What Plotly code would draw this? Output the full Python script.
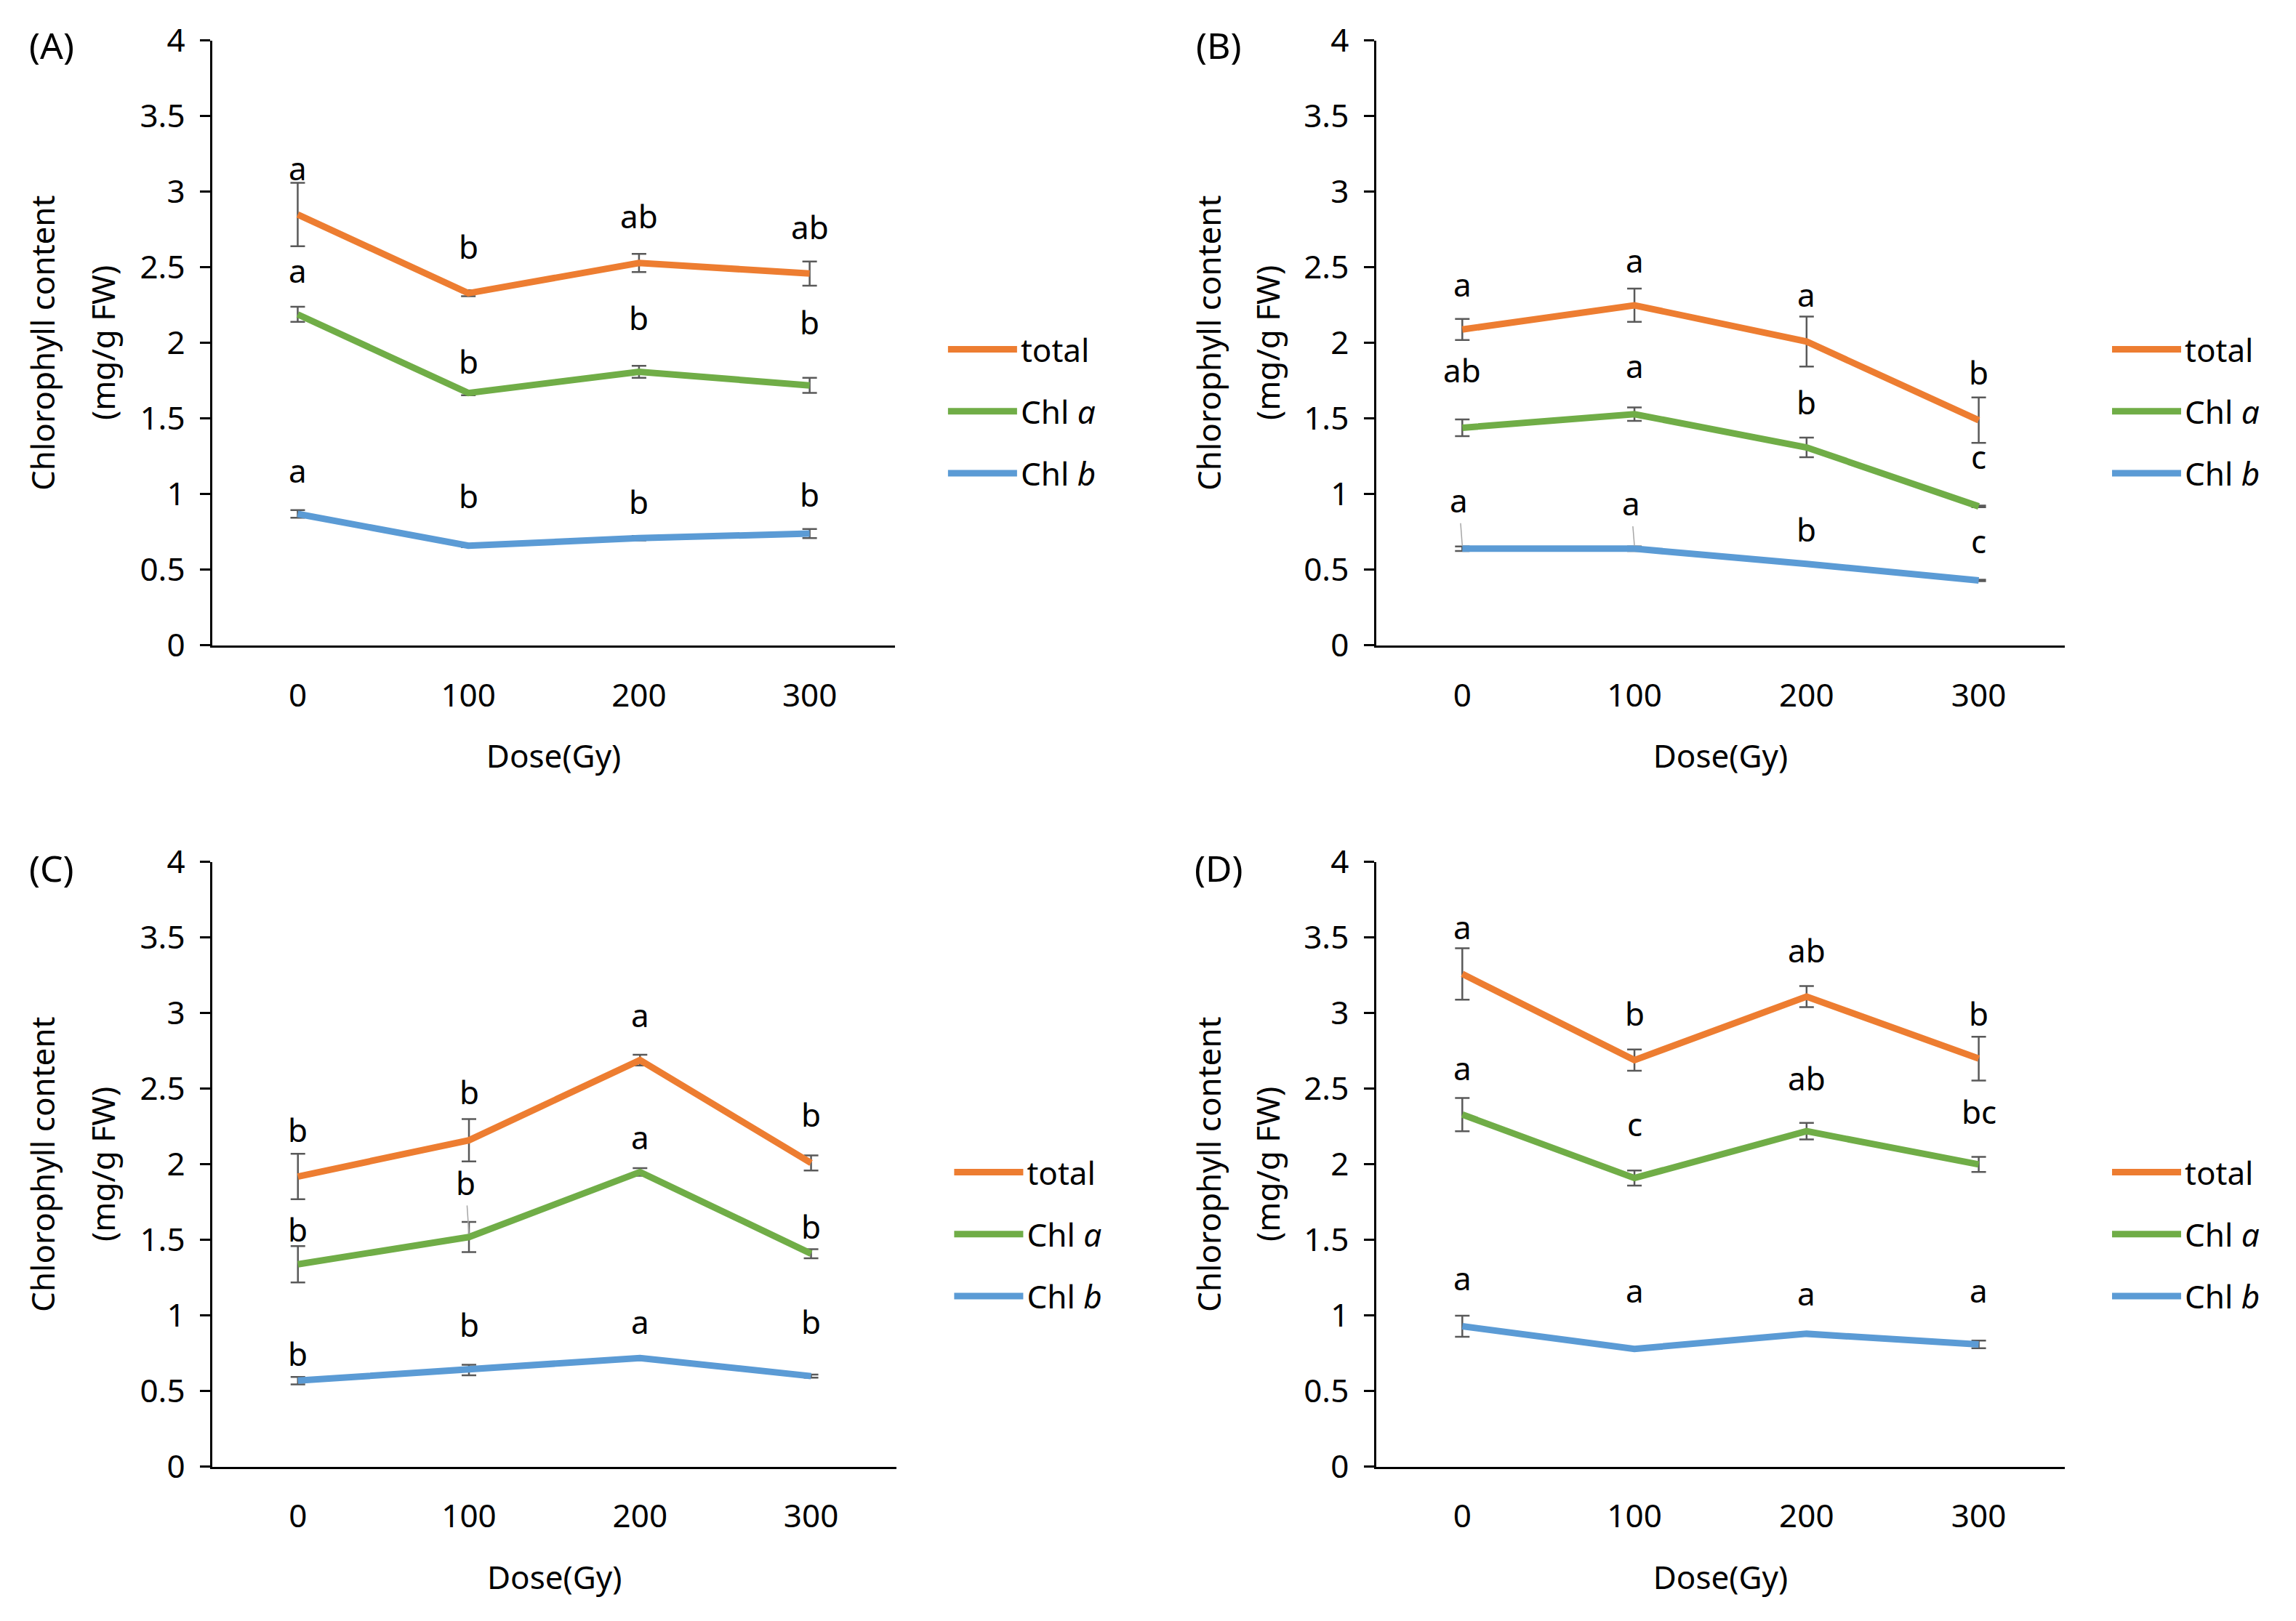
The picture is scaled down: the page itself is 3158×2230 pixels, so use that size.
import plotly.graph_objects as go

FONT = "Noto Sans"
FS = 44

doses = ["0", "100", "200", "300"]
series_names = ["total", "Chl <i>a</i>", "Chl <i>b</i>"]
series_colors = ["#ED7D31", "#70AD47", "#5B9BD5"]
panel_tags = ["(A)", "(B)", "(C)", "(D)"]

# ---- Panel A ----
A_total = [2.85, 2.33, 2.53, 2.46]
A_total_err = [0.21, 0.02, 0.06, 0.08]
A_chla = [2.19, 1.67, 1.81, 1.72]
A_chla_err = [0.05, 0.015, 0.04, 0.05]
A_chlb = [0.87, 0.66, 0.71, 0.74]
A_chlb_err = [0.025, 0.01, 0.015, 0.03]
A_total_letters = ["a", "b", "ab", "ab"]
A_chla_letters = ["a", "b", "b", "b"]
A_chlb_letters = ["a", "b", "b", "b"]
A_total_label_y = [3.16, 2.64, 2.84, 2.77]
A_chla_label_y = [2.48, 1.88, 2.17, 2.14]
A_chlb_label_y = [1.16, 0.99, 0.95, 1.0]

# ---- Panel B ----
B_total = [2.09, 2.25, 2.01, 1.49]
B_total_err = [0.07, 0.11, 0.165, 0.15]
B_chla = [1.44, 1.53, 1.31, 0.92]
B_chla_err = [0.055, 0.045, 0.065, 0.005]
B_chlb = [0.64, 0.64, 0.54, 0.43]
B_chlb_err = [0.015, 0.015, 0.003, 0.005]
B_total_letters = ["a", "a", "a", "b"]
B_chla_letters = ["ab", "a", "b", "c"]
B_chlb_letters = ["a", "a", "b", "c"]
B_total_label_y = [2.39, 2.55, 2.32, 1.81]
B_chla_label_y = [1.82, 1.85, 1.61, 1.25]
B_chlb_label_y = [0.96, 0.94, 0.77, 0.69]

# ---- Panel C ----
C_total = [1.92, 2.16, 2.69, 2.01]
C_total_err = [0.15, 0.14, 0.035, 0.05]
C_chla = [1.34, 1.52, 1.95, 1.41]
C_chla_err = [0.12, 0.10, 0.025, 0.03]
C_chlb = [0.57, 0.64, 0.72, 0.6]
C_chlb_err = [0.025, 0.035, 0.005, 0.01]
C_total_letters = ["b", "b", "a", "b"]
C_chla_letters = ["b", "b", "a", "b"]
C_chlb_letters = ["b", "b", "a", "b"]
C_total_label_y = [2.23, 2.48, 2.99, 2.33]
C_chla_label_y = [1.57, 1.88, 2.18, 1.59]
C_chlb_label_y = [0.75, 0.94, 0.96, 0.96]

# ---- Panel D ----
D_total = [3.26, 2.69, 3.11, 2.70]
D_total_err = [0.17, 0.07, 0.07, 0.145]
D_chla = [2.33, 1.91, 2.22, 2.0]
D_chla_err = [0.11, 0.05, 0.055, 0.05]
D_chlb = [0.93, 0.78, 0.88, 0.81]
D_chlb_err = [0.07, 0.005, 0.01, 0.025]
D_total_letters = ["a", "b", "ab", "b"]
D_chla_letters = ["a", "c", "ab", "bc"]
D_chlb_letters = ["a", "a", "a", "a"]
D_total_label_y = [3.57, 3.0, 3.42, 3.0]
D_chla_label_y = [2.64, 2.27, 2.57, 2.35]
D_chlb_label_y = [1.25, 1.17, 1.15, 1.17]

panels = [
    dict(vals=[A_total, A_chla, A_chlb], errs=[A_total_err, A_chla_err, A_chlb_err],
         letters=[A_total_letters, A_chla_letters, A_chlb_letters],
         label_y=[A_total_label_y, A_chla_label_y, A_chlb_label_y], leaders=[]),
    dict(vals=[B_total, B_chla, B_chlb], errs=[B_total_err, B_chla_err, B_chlb_err],
         letters=[B_total_letters, B_chla_letters, B_chlb_letters],
         label_y=[B_total_label_y, B_chla_label_y, B_chlb_label_y], leaders=[(2, 0), (2, 1)]),
    dict(vals=[C_total, C_chla, C_chlb], errs=[C_total_err, C_chla_err, C_chlb_err],
         letters=[C_total_letters, C_chla_letters, C_chlb_letters],
         label_y=[C_total_label_y, C_chla_label_y, C_chlb_label_y], leaders=[(1, 1)]),
    dict(vals=[D_total, D_chla, D_chlb], errs=[D_total_err, D_chla_err, D_chlb_err],
         letters=[D_total_letters, D_chla_letters, D_chlb_letters],
         label_y=[D_total_label_y, D_chla_label_y, D_chlb_label_y], leaders=[]),
]

W, H = 3158, 2230
x_domains = [[0.0925, 0.3898], [0.5994, 0.8993], [0.0925, 0.3905], [0.5994, 0.8993]]
y_domains = [[0.6018, 0.9749], [0.6018, 0.9749], [0.0951, 0.4682], [0.0951, 0.4682]]
legend_pos = [(0.4113, 0.7462), (0.9183, 0.7462), (0.4140, 0.2386), (0.9183, 0.2386)]
tag_pos = [(71, 62), (1676, 62), (71, 1194), (1676, 1194)]
ytitle_x = [(58, 141), (1662, 1743), (58, 141), (1662, 1743)]

fig = go.Figure()
annotations = []
layout = dict(width=W, height=H, margin=dict(l=0, r=0, t=0, b=0, autoexpand=False),
              paper_bgcolor="white", plot_bgcolor="white",
              font=dict(family=FONT, size=FS, color="black"), showlegend=True)

for p, pan in enumerate(panels):
    sfx = "" if p == 0 else str(p + 1)
    xa, ya = "x" + sfx, "y" + sfx
    leg = "legend" + sfx
    for s in range(3):
        fig.add_trace(go.Scatter(
            x=list(range(len(doses))), y=pan["vals"][s], mode="lines",
            name=series_names[s], legend=leg, legendgroup=f"p{p}s{s}",
            line=dict(color=series_colors[s], width=9),
            error_y=dict(type="data", array=pan["errs"][s], visible=True,
                         color="#595959", thickness=2.5, width=10),
            xaxis=xa, yaxis=ya))
        for i in range(len(doses)):
            a = dict(x=i, y=pan["label_y"][s][i], xref=xa, yref=ya,
                     text=pan["letters"][s][i], showarrow=False,
                     xanchor="center", yanchor="middle",
                     font=dict(family=FONT, size=FS, color="black"))
            if (s, i) in pan["leaders"]:
                a.update(showarrow=True, arrowhead=0, arrowwidth=1.5,
                         arrowcolor="#A6A6A6", ax=i - 0.02, ay=pan["label_y"][s][i],
                         axref=xa, ayref=ya, x=i, y=pan["vals"][s][i] + 0.02,
                         standoff=0, startstandoff=0)
            annotations.append(a)
    layout["xaxis" + sfx] = dict(
        domain=x_domains[p], anchor=ya, range=[-0.5, 3.5], automargin=False,
        tickvals=list(range(len(doses))), ticktext=doses, ticks="",
        showline=True, linecolor="black", linewidth=2.5, showgrid=False,
        zeroline=False, ticklabelstandoff=28,
        title=dict(text="Dose(Gy)", standoff=42, font=dict(size=FS)),
        tickfont=dict(size=FS))
    layout["yaxis" + sfx] = dict(
        domain=y_domains[p], anchor=xa, range=[0, 4], automargin=False,
        tickvals=[0, 0.5, 1, 1.5, 2, 2.5, 3, 3.5, 4],
        ticktext=["0", "0.5", "1", "1.5", "2", "2.5", "3", "3.5", "4"],
        ticks="outside", ticklen=14, tickwidth=2.5, tickcolor="black",
        showline=True, linecolor="black", linewidth=2.5, showgrid=False,
        zeroline=False, ticklabelstandoff=12, tickfont=dict(size=FS))
    lx, ly = legend_pos[p]
    layout[leg] = dict(x=lx, y=ly, xanchor="left", yanchor="middle",
                       xref="paper", yref="paper", bgcolor="rgba(0,0,0,0)",
                       font=dict(family=FONT, size=FS), itemwidth=95,
                       tracegroupgap=25)
    tx, ty = tag_pos[p]
    annotations.append(dict(x=tx / W, y=1 - ty / H, xref="paper", yref="paper",
                            text=panel_tags[p], showarrow=False,
                            xanchor="center", yanchor="middle",
                            font=dict(family=FONT, size=50)))
    yc = (y_domains[p][0] + y_domains[p][1]) / 2
    annotations.append(dict(x=ytitle_x[p][0] / W, y=yc, xref="paper", yref="paper",
                            text="Chlorophyll content", textangle=-90, showarrow=False,
                            xanchor="center", yanchor="middle",
                            font=dict(family=FONT, size=FS)))
    annotations.append(dict(x=ytitle_x[p][1] / W, y=yc, xref="paper", yref="paper",
                            text="(mg/g FW)", textangle=-90, showarrow=False,
                            xanchor="center", yanchor="middle",
                            font=dict(family=FONT, size=FS)))

layout["annotations"] = annotations
fig.update_layout(**layout)
fig.write_html("out.html")
